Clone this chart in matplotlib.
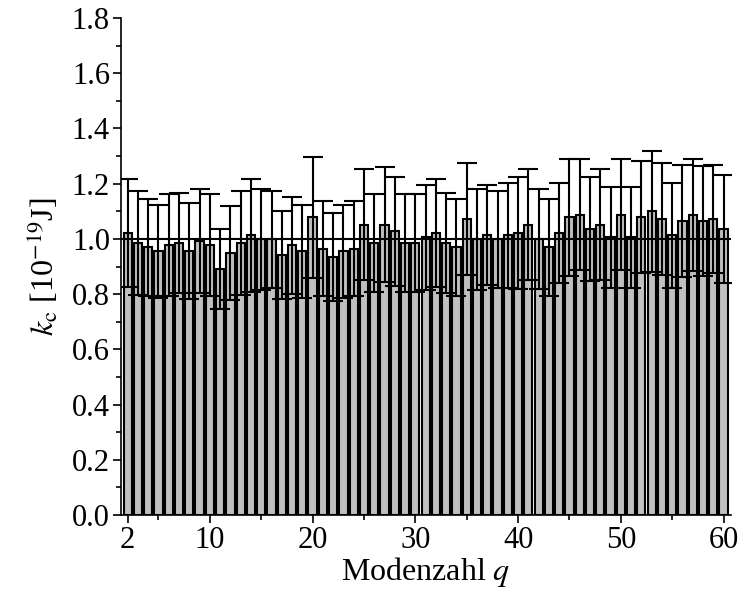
import matplotlib.pyplot as plt
import numpy as np

plt.rcParams['font.family'] = ['Liberation Serif', 'DejaVu Serif']
plt.rcParams['mathtext.fontset'] = 'stix'

# mode number and bending rigidity with its error
q = list(range(2, 61))
kc = [1.022, 0.985, 0.970, 0.955, 0.977, 0.985, 0.957, 0.992, 0.977, 0.891,
      0.949, 0.985, 1.013, 0.998, 0.998, 0.941, 0.977, 0.955, 1.078,
      0.964, 0.935, 0.955, 0.964, 1.052, 0.985, 1.052, 1.028, 0.985, 0.985,
      1.006, 1.022, 0.985, 0.970, 1.072, 0.998, 1.013, 0.998, 1.013, 1.022,
      1.052, 1.000, 0.970, 1.022, 1.078, 1.088, 1.036, 1.052, 1.006, 1.088,
      1.006, 1.078, 1.100, 1.072, 1.013, 1.064, 1.088, 1.064, 1.072, 1.036]
kc_err = [0.195, 0.188, 0.175, 0.169, 0.184, 0.182, 0.173, 0.189, 0.184, 0.145,
          0.169, 0.188, 0.204, 0.183, 0.175, 0.159, 0.175, 0.169, 0.219,
          0.172, 0.159, 0.169, 0.172, 0.202, 0.176, 0.209, 0.197, 0.176, 0.176,
          0.191, 0.195, 0.182, 0.175, 0.203, 0.183, 0.181, 0.175, 0.190, 0.203,
          0.202, 0.181, 0.175, 0.181, 0.212, 0.202, 0.189, 0.202, 0.182, 0.202,
          0.182, 0.203, 0.220, 0.203, 0.190, 0.203, 0.203, 0.199, 0.195, 0.195]
kc_mean = 1.0

fig = plt.figure(figsize=(7.4, 5.89), dpi=100)
ax = fig.add_axes([0.1635, 0.1256, 0.824, 0.8438])

ax.bar(q, kc, width=0.8, color='#c0c0c0', edgecolor='black', linewidth=1.5, zorder=2)
ax.errorbar(q, kc, yerr=kc_err, fmt='none', ecolor='black', elinewidth=1.5,
            capsize=7, capthick=1.5, zorder=3)
ax.axhline(kc_mean, color='black', linewidth=1.5, zorder=4)

ax.set_xlim(1.35, 60.7)
ax.set_ylim(0, 1.8)
ax.set_xticks([2, 10, 20, 30, 40, 50, 60])
ax.set_xticks([5, 15, 25, 35, 45, 55], minor=True)
ax.set_yticks(np.arange(0, 1.81, 0.2))
ax.set_yticks(np.arange(0.1, 1.8, 0.2), minor=True)
ax.set_yticklabels(['%.1f' % v for v in np.arange(0, 1.81, 0.2)])

for s in ['top', 'right']:
    ax.spines[s].set_visible(False)
for s in ['left', 'bottom']:
    ax.spines[s].set_linewidth(1.2)
ax.tick_params(which='major', direction='out', length=6, width=1.2, labelsize=22, pad=2)
ax.tick_params(which='minor', direction='out', length=3.5, width=1.2)

ax.set_xlabel(r'Modenzahl $q$', fontsize=23, labelpad=0)
ax.set_ylabel(r'$k_\mathrm{c}$ [10$^{\mathrm{-19}}$J]', fontsize=23, labelpad=8)

plt.savefig('out.png', dpi=100)
